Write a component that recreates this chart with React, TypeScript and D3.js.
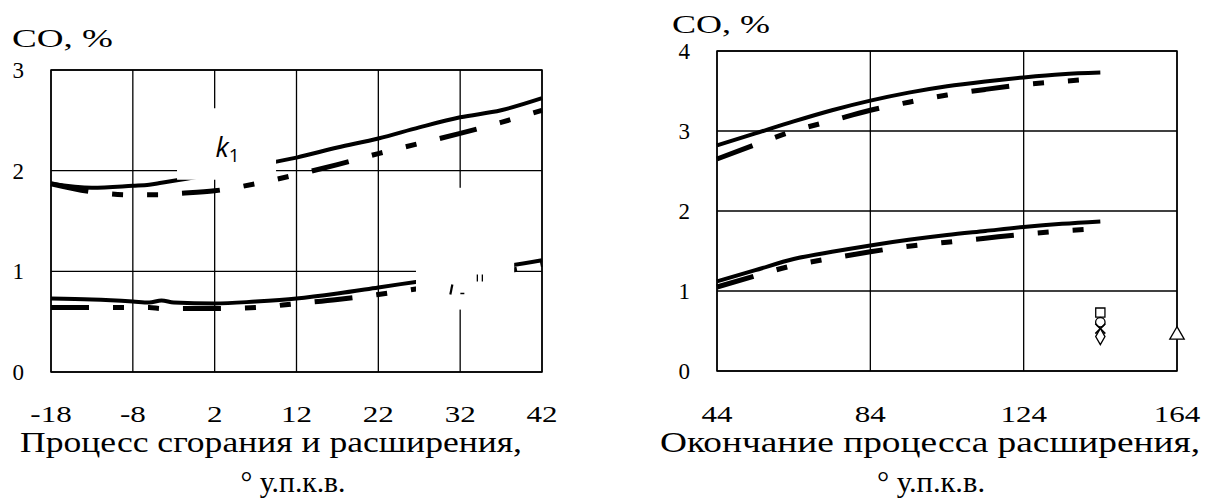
import React, { useRef, useEffect } from 'react';
import * as d3 from 'd3';

// left panel: combustion / expansion
const leftX = [-18, -13, -8, -6, -4.5, -3, 2, 7, 12, 17, 22, 27, 32, 37, 42];
const leftTopSolid = [1.87, 1.83, 1.85, 1.86, 1.88, 1.9, 1.97, 2.05, 2.13, 2.23, 2.32, 2.43, 2.53, 2.6, 2.72];
const leftTopDash = [1.87, 1.79, 1.76, 1.76, 1.76, 1.77, 1.8, 1.87, 1.96, 2.06, 2.17, 2.27, 2.37, 2.48, 2.6];
const leftBotSolid = [0.73, 0.72, 0.7, 0.69, 0.71, 0.69, 0.68, 0.7, 0.73, 0.78, 0.84, 0.9, 0.96, 1.04, 1.11];
const leftBotDash = [0.64, 0.64, 0.64, 0.64, 0.63, 0.63, 0.63, 0.64, 0.68, 0.72, 0.77, 0.83, 0.91, 0.99, 1.07];
const leftXTicks = [-18, -8, 2, 12, 22, 32, 42];
const leftYTicks = [0, 1, 2, 3];

// right panel: end of expansion
const rightX = [44, 54, 64, 74, 84, 94, 104, 114, 124, 134, 144];
const rightTopSolid = [2.82, 2.97, 3.12, 3.26, 3.38, 3.48, 3.56, 3.62, 3.67, 3.71, 3.73];
const rightTopDash = [2.65, 2.83, 3.0, 3.13, 3.26, 3.36, 3.45, 3.52, 3.58, 3.62, 3.66];
const rightBotSolid = [1.12, 1.26, 1.4, 1.49, 1.57, 1.64, 1.7, 1.75, 1.8, 1.84, 1.87];
const rightBotDash = [1.05, 1.19, 1.32, 1.41, 1.49, 1.56, 1.61, 1.66, 1.71, 1.75, 1.78];
const rightXTicks = [44, 84, 124, 164];
const rightYTicks = [0, 1, 2, 3, 4];

// measured points
const markerX = 144;
const markerSquare = 0.73;
const markerCircle = 0.61;
const markerCross = 0.53;
const markerDiamond = 0.43;
const triangleX = 164;
const triangleY = 0.45;

const DASH = '38,24,11,24,11,24';
const SERIF = "'Liberation Serif', 'Times New Roman', Times, 'DejaVu Serif', serif";

type Panel = {
  x: d3.ScaleLinear<number, number>;
  y: d3.ScaleLinear<number, number>;
};

export default function App() {
  const ref = useRef<SVGSVGElement>(null);

  useEffect(() => {
    if (!ref.current) return;
    const svg = d3.select(ref.current);
    svg.selectAll('*').remove();

    const drawPanel = (
      p: Panel,
      xTicks: number[],
      yTicks: number[],
      xs: number[],
      series: { v: number[]; dash: boolean }[],
    ) => {
      const g = svg.append('g');
      const [x0, x1] = p.x.range();
      const [y0, y1] = p.y.range();

      g.selectAll('line.vg')
        .data(xTicks)
        .join('line')
        .attr('x1', d => p.x(d)).attr('x2', d => p.x(d))
        .attr('y1', y0).attr('y2', y1)
        .attr('stroke', '#000').attr('stroke-width', 1.3);
      g.selectAll('line.hg')
        .data(yTicks)
        .join('line')
        .attr('x1', x0).attr('x2', x1)
        .attr('y1', d => p.y(d)).attr('y2', d => p.y(d))
        .attr('stroke', '#000').attr('stroke-width', 1.3);

      const line = d3.line<number>()
        .x((_, i) => p.x(xs[i]))
        .y(d => p.y(d))
        .curve(d3.curveMonotoneX);

      series.forEach(s => {
        g.append('path')
          .attr('d', line(s.v))
          .attr('fill', 'none')
          .attr('stroke', '#000')
          .attr('stroke-width', s.dash ? 5 : 4)
          .attr('stroke-dasharray', s.dash ? DASH : null);
      });

      // y tick labels
      g.selectAll('text.yl')
        .data(yTicks)
        .join('text')
        .attr('x', x0 - 27)
        .attr('y', d => p.y(d) + 8)
        .attr('text-anchor', 'end')
        .style('font-family', SERIF)
        .attr('font-size', 23)
        .text(d => d);

      // x tick labels, stretched like the source
      g.selectAll('text.xl')
        .data(xTicks)
        .join('text')
        .attr('transform', d => `translate(${p.x(d)},422) scale(1.35,1)`)
        .attr('text-anchor', 'middle')
        .style('font-family', SERIF)
        .attr('font-size', 23)
        .text(d => d);

      return g;
    };

    // left panel
    const L: Panel = {
      x: d3.scaleLinear().domain([-18, 42]).range([51, 542]),
      y: d3.scaleLinear().domain([0, 3]).range([372, 70]),
    };
    const gl = drawPanel(L, leftXTicks, leftYTicks, leftX, [
      { v: leftTopSolid, dash: false },
      { v: leftTopDash, dash: true },
      { v: leftBotSolid, dash: false },
      { v: leftBotDash, dash: true },
    ]);

    // label boxes
    gl.append('rect')
      .attr('x', L.x(-2.6)).attr('y', L.y(2.62))
      .attr('width', L.x(9.5) - L.x(-2.6)).attr('height', L.y(1.91) - L.y(2.62))
      .attr('fill', '#fff');
    gl.append('text')
      .attr('x', L.x(2.1)).attr('y', L.y(2.14))
      .style('font-family', "'Open Sans', sans-serif")
      .attr('font-style', 'italic')
      .attr('font-size', 27)
      .text('k')
      .append('tspan')
      .attr('font-style', 'normal')
      .attr('font-size', 19)
      .attr('dy', 5)
      .text('1');

    gl.append('rect')
      .attr('x', L.x(26.6)).attr('y', L.y(1.83))
      .attr('width', L.x(38.6) - L.x(26.6)).attr('height', L.y(0.62) - L.y(1.83))
      .attr('fill', '#fff');
    // clipped remains of the k2 label
    const kx = L.x(30.8);
    const ky = L.y(0.77);
    gl.append('path')
      .attr('d', `M${kx + 2},${ky - 10}L${kx},${ky}`)
      .attr('stroke', '#000').attr('stroke-width', 2.2);
    gl.append('path')
      .attr('d', `M${kx + 10},${ky - 1}L${kx + 14},${ky - 1}`)
      .attr('stroke', '#000').attr('stroke-width', 1.5);
    gl.append('path')
      .attr('d', `M${kx + 27},${ky - 20}L${kx + 27},${ky - 13}M${kx + 32},${ky - 20}L${kx + 32},${ky - 13}`)
      .attr('stroke', '#000').attr('stroke-width', 1.3);

    gl.append('rect')
      .attr('x', 51).attr('y', 70).attr('width', 491).attr('height', 302)
      .attr('fill', 'none').attr('stroke', '#000').attr('stroke-width', 1.5);

    // right panel
    const R: Panel = {
      x: d3.scaleLinear().domain([44, 164]).range([717, 1177]),
      y: d3.scaleLinear().domain([0, 4]).range([371, 51]),
    };
    const gr = drawPanel(R, rightXTicks, rightYTicks, rightX, [
      { v: rightTopSolid, dash: false },
      { v: rightTopDash, dash: true },
      { v: rightBotSolid, dash: false },
      { v: rightBotDash, dash: true },
    ]);
    gr.append('rect')
      .attr('x', 717).attr('y', 51).attr('width', 460).attr('height', 320)
      .attr('fill', 'none').attr('stroke', '#000').attr('stroke-width', 1.5);

    const mx = R.x(markerX);
    const sym = (type: d3.SymbolType, size: number, cx: number, cy: number) =>
      gr.append('path')
        .attr('d', d3.symbol(type, size)())
        .attr('transform', `translate(${cx},${cy})`)
        .attr('fill', '#fff').attr('stroke', '#000').attr('stroke-width', 1.3);
    sym(d3.symbolSquare, 85, mx, R.y(markerSquare));
    sym(d3.symbolCircle, 70, mx, R.y(markerCircle));
    const cy = R.y(markerCross);
    gr.append('path')
      .attr('d', `M${mx - 5},${cy - 5}L${mx + 5},${cy + 5}M${mx + 5},${cy - 5}L${mx - 5},${cy + 5}`)
      .attr('stroke', '#000').attr('stroke-width', 1.6);
    sym(d3.symbolDiamond, 75, mx, R.y(markerDiamond));
    sym(d3.symbolTriangle, 90, R.x(triangleX), R.y(triangleY));

    // axis titles, stretched horizontally as in the source
    const txt = (x: number, y: number, s: string, size: number, len: number, anchor = 'start') =>
      svg.append('text')
        .attr('x', x).attr('y', y)
        .attr('text-anchor', anchor)
        .style('font-family', SERIF)
        .attr('font-size', size)
        .attr('textLength', len)
        .attr('lengthAdjust', 'spacingAndGlyphs')
        .text(s);
    txt(12, 47, 'CO, %', 26, 101);
    txt(672, 33, 'CO, %', 26, 98);
    txt(271, 452, 'Процесс сгорания и расширения,', 29, 502, 'middle');
    txt(293, 492, '° у.п.к.в.', 29, 105, 'middle');
    txt(930, 452, 'Окончание процесса расширения,', 29, 540, 'middle');
    txt(931, 492, '° у.п.к.в.', 29, 108, 'middle');
  }, []);

  return (
    <div style={{ position: 'absolute', left: 0, top: 0, background: '#fff', fontFamily: SERIF }}>
      <svg ref={ref} width={1210} height={502} viewBox="0 0 1210 502" />
    </div>
  );
}
